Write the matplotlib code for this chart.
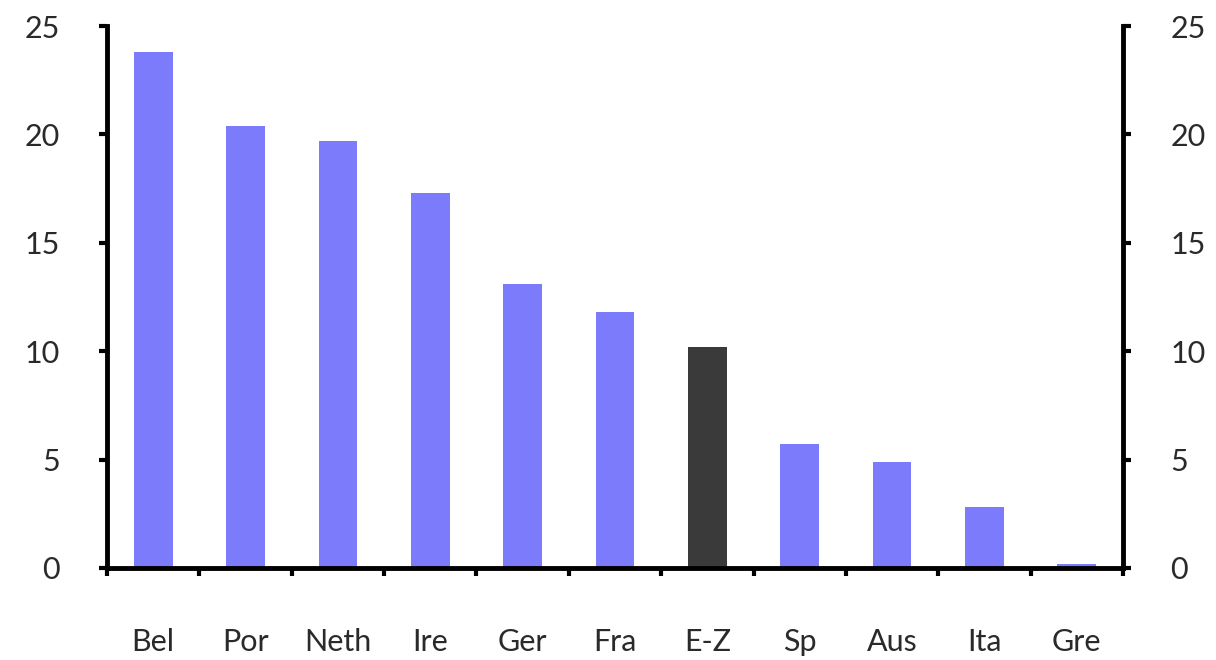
import numpy as np
import matplotlib
matplotlib.use('Agg')
import matplotlib.pyplot as plt

countries = ['Bel', 'Por', 'Neth', 'Ire', 'Ger', 'Fra', 'E-Z', 'Sp', 'Aus', 'Ita', 'Gre']
values = [23.8, 20.4, 19.7, 17.3, 13.1, 11.8, 10.2, 5.7, 4.9, 2.8, 0.2]
highlight = 'E-Z'

plt.rcParams['font.family'] = ['Lato', 'DejaVu Sans']

blue = '#7b7bfb'
dark = '#3a3a3a'
colors = [dark if c == highlight else blue for c in countries]

fig = plt.figure(figsize=(12.16, 6.6), dpi=100)
ax = fig.add_axes([0.088, 0.1394, 0.8355, 0.8212])
x = np.arange(len(countries))
ax.bar(x, values, width=0.42, color=colors)

ax.set_xlim(-0.5, len(countries) - 0.5)
ax.set_ylim(0, 25)
ax.set_yticks([0, 5, 10, 15, 20, 25])

# category labels centred, tick marks between categories
ax.set_xticks(x)
ax.set_xticklabels(countries)
ax.set_xticks(np.arange(-0.5, len(countries)), minor=True)
ax.tick_params(axis='x', which='major', length=0, pad=43, labelsize=22, labelcolor='#2a2a2a')
ax.tick_params(axis='x', which='minor', length=6, width=3, direction='out')

ax.tick_params(axis='y', which='major', length=6, width=3, direction='out',
               pad=28, labelsize=22, labelcolor='#2a2a2a',
               left=True, right=True, labelleft=True, labelright=True)

ax.spines['top'].set_visible(False)
for s in ['left', 'right', 'bottom']:
    ax.spines[s].set_linewidth(3.5)
    ax.spines[s].set_color('black')

plt.savefig('out.png', dpi=100)
